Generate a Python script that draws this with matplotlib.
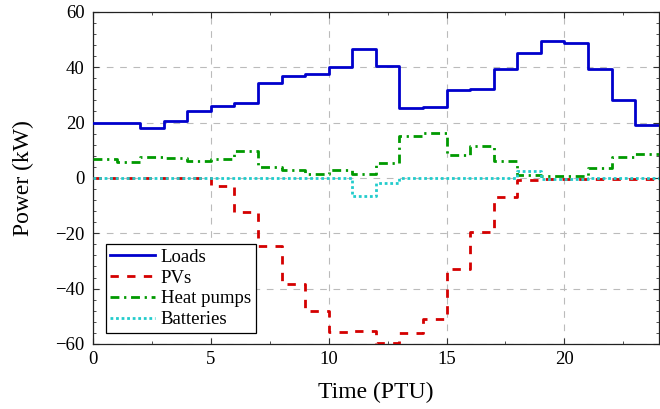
import matplotlib
matplotlib.use("Agg")
import matplotlib.pyplot as plt
from matplotlib.ticker import MultipleLocator
import numpy as np

ptu = list(range(24))
loads = [19.8, 20.0, 17.9, 20.7, 24.3, 25.9, 27.0, 34.2, 36.9, 37.6, 40.2, 46.6,
         40.6, 25.4, 25.8, 31.8, 32.0, 39.3, 45.3, 49.6, 48.8, 39.4, 28.2, 19.2]
pvs = [0, 0, 0, 0, 0, -2.8, -12.2, -24.5, -38.2, -48.1, -55.5, -55.2,
       -59.5, -55.9, -50.8, -33.0, -19.6, -7.0, -0.7, -0.4, -0.3, -0.3, -0.3, -0.3]
heat_pumps = [7.0, 5.7, 7.7, 7.3, 6.0, 6.9, 9.8, 4.0, 2.8, 1.3, 2.9, 1.3,
              5.3, 15.2, 16.3, 8.3, 11.4, 6.0, 1.1, 0.8, 0.8, 3.5, 7.7, 8.7]
batteries = [0, 0, 0, 0, 0, 0, 0, 0, 0, 0, 0, -6.4,
             -1.9, 0, 0, 0, 0, 0, 2.5, -0.5, -0.5, 0, 0, 0]
yticks = [-60, -40, -20, 0, 20, 40, 60]
ytick_labels = ['\u221260', '\u221240', '\u221220', '0', '20', '40', '60']

plt.rcParams['font.family'] = ['Liberation Serif', 'DejaVu Serif']

fig = plt.figure(figsize=(6.6, 4.09), dpi=100)
ax = fig.add_axes([0.141, 0.159, 0.857, 0.812])

edges = ptu + [ptu[-1] + 1]
def stepline(vals, **kw):
    ax.step(edges, list(vals) + [vals[-1]], where='post', **kw)

stepline(loads, color='#0000cc', lw=2.0, label='Loads', zorder=3)
stepline(pvs, color='#d40000', lw=2.0, ls=(0, (3, 3)), label='PVs', zorder=3)
stepline(heat_pumps, color='#009900', lw=2.0, ls=(0, (3.2, 1.7, 0.8, 1.7)), label='Heat pumps', zorder=3)
stepline(batteries, color='#22cccc', lw=2.0, ls=(0, (1, 1)), label='Batteries', zorder=3)

ax.set_xlim(0, 24)
ax.set_ylim(-60, 60)
ax.xaxis.set_major_locator(MultipleLocator(5))
ax.xaxis.set_minor_locator(MultipleLocator(2.5))
ax.set_yticks(yticks)
ax.set_yticklabels(ytick_labels)
ax.yaxis.set_minor_locator(MultipleLocator(4))
ax.tick_params(which='both', direction='in', top=True, right=True, labelsize=13.5, color='#333333')
ax.tick_params(axis='x', which='major', pad=5)
ax.tick_params(axis='y', which='major', pad=6)
ax.tick_params(which='major', length=4)
ax.tick_params(which='minor', length=2.5)
ax.grid(True, which='major', ls=(0, (6, 6)), color='#bbbbbb', lw=0.8)
for s in ax.spines.values():
    s.set_linewidth(0.9)
    s.set_color('#222222')

ax.set_xlabel('Time (PTU)', fontsize=17, labelpad=10)
ax.set_ylabel('Power (kW)', fontsize=17, labelpad=15)

leg = ax.legend(loc='lower left', bbox_to_anchor=(0.022, 0.033), fontsize=13.5,
                frameon=True, fancybox=False, edgecolor='black', framealpha=1,
                borderpad=0.25, labelspacing=0.2, handlelength=2.4, handletextpad=0.3,
                borderaxespad=0)
leg.get_frame().set_linewidth(0.9)

fig.savefig('out.png', dpi=100)
